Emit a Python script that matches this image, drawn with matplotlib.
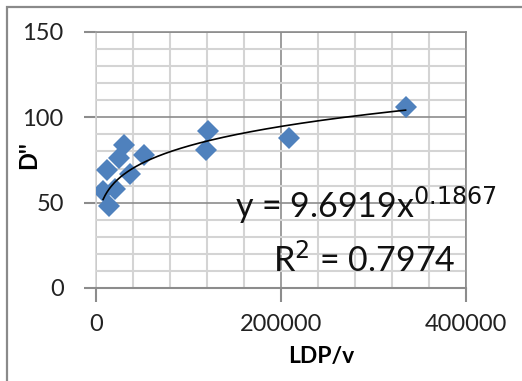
import matplotlib.pyplot as plt
import numpy as np
from matplotlib.patches import Rectangle
from matplotlib.ticker import MultipleLocator

plt.rcParams['font.family'] = ['Lato', 'DejaVu Sans']

# measured points
ldp_v = [8000, 12000, 14000, 21000, 25000, 31000, 37000, 52000, 119000, 121500, 209000, 335000]
d_val = [57, 69, 48, 58, 76, 84, 67, 78, 81, 92, 88, 106]

# power trendline y = a * x^b
coef_a = 9.6919
coef_b = 0.1867
r_squared = 0.7974

MAJOR_GRID = '#8c8c8c'
MINOR_GRID = '#d4d4d4'
BLUE = '#4F81BD'

fig = plt.figure(figsize=(5.22, 3.81), dpi=100)
ax = fig.add_axes([95.7 / 522, 1 - 288 / 381, 370 / 522, 256 / 381])

# chart area border
fig.patches.append(Rectangle((7 / 522, -0.1), 1.2, 1 - 7 / 381 + 0.1,
                             transform=fig.transFigure, fill=False,
                             edgecolor='#8a8a8a', linewidth=1.6))

ax.set_xlim(0, 400000)
ax.set_ylim(0, 150)
ax.xaxis.set_major_locator(MultipleLocator(200000))
ax.xaxis.set_minor_locator(MultipleLocator(40000))
ax.yaxis.set_major_locator(MultipleLocator(50))
ax.yaxis.set_minor_locator(MultipleLocator(10))

ax.grid(which='minor', color=MINOR_GRID, linewidth=1.5)
ax.grid(which='major', color=MAJOR_GRID, linewidth=1.2)
ax.set_axisbelow(True)

for side in ['top', 'right', 'left']:
    ax.spines[side].set_color(MAJOR_GRID)
    ax.spines[side].set_linewidth(1.2)
ax.spines['left'].set_color(MINOR_GRID)
ax.spines['bottom'].set_color(MAJOR_GRID)
ax.spines['bottom'].set_linewidth(1.5)

ax.tick_params(which='major', length=10, width=1.5, color=MAJOR_GRID,
               labelsize=17, pad=9, labelcolor='#222222')
ax.tick_params(which='minor', length=0)
ax.tick_params(axis='y', which='major', left=True, length=9, pad=14)
ax.xaxis.set_major_formatter(plt.FuncFormatter(lambda v, p: '%d' % v))

ax.plot(ldp_v, d_val, linestyle='none', marker='D', markersize=11.5,
        color=BLUE, markeredgewidth=0, zorder=3)

xs = np.linspace(min(ldp_v), max(ldp_v), 300)
ax.plot(xs, coef_a * xs ** coef_b, color='black', linewidth=1.2, zorder=4)

fig.text(235 / 522, 1 - 218 / 381,
         'y = %.4fx$^{%.4f}$' % (coef_a, coef_b),
         fontsize=24.5, ha='left', va='baseline', color='#111111')
fig.text(273 / 522, 1 - 272 / 381, 'R$^2$ = %.4f' % r_squared,
         fontsize=24.5, ha='left', va='baseline', color='#111111')

fig.text(321 / 522, 1 - 357 / 381, 'LDP/v', fontsize=16.5, fontweight='bold',
         ha='center', va='center')
fig.text(29 / 522, 1 - 155 / 381, "D''", fontsize=17, fontweight='bold',
         ha='center', va='center', rotation=90)

fig.savefig('out.png', dpi=100)
